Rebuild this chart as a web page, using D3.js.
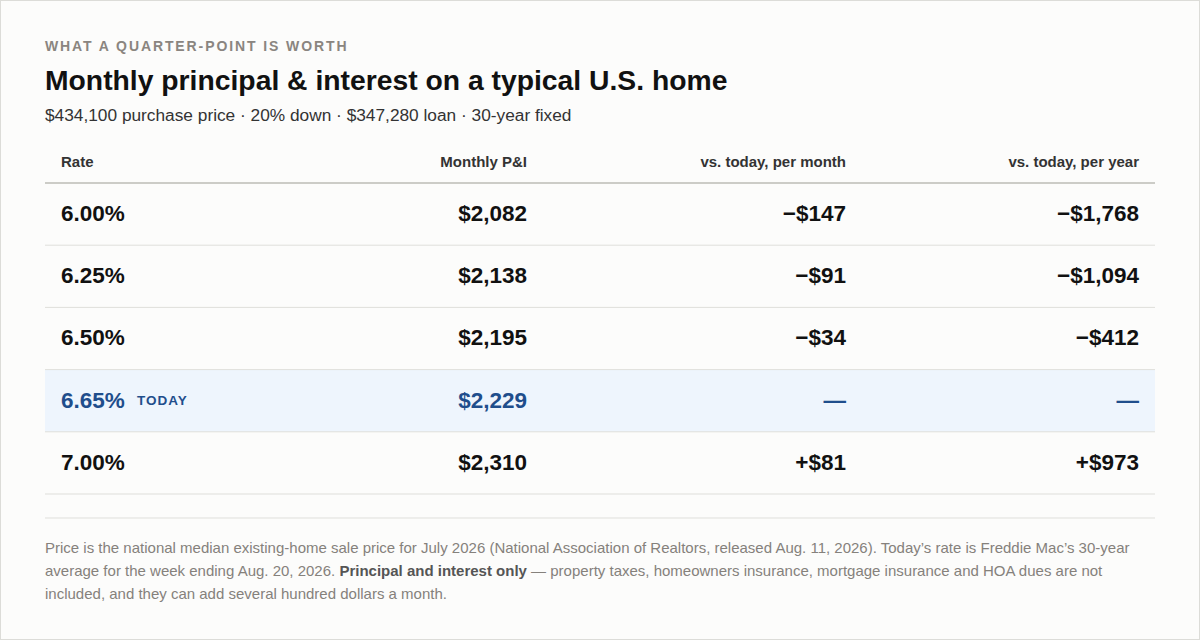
<!DOCTYPE html>
<html><head><meta charset="utf-8">
<script src="https://cdn.jsdelivr.net/npm/d3@7"></script>
<style>
body{margin:0;background:#fff;font-family:"Liberation Sans",Arial,sans-serif;}
</style></head>
<body><svg id="c" width="1200" height="640"></svg>
<script>
var rates = ['6.00%', '6.25%', '6.50%', '6.65%', '7.00%'];
var monthly = ['$2,082', '$2,138', '$2,195', '$2,229', '$2,310'];
var perMonth = ['\u2212$147', '\u2212$91', '\u2212$34', '\u2014', '+$81'];
var perYear = ['\u2212$1,768', '\u2212$1,094', '\u2212$412', '\u2014', '+$973'];
var todayIndex = 3;
var headers = ['Rate', 'Monthly P&I', 'vs. today, per month', 'vs. today, per year'];

var svg = d3.select('#c');
svg.append('rect').attr('x', 0.5).attr('y', 0.5).attr('width', 1199).attr('height', 639)
	.attr('fill', '#fcfcfb').attr('stroke', '#dcdcd8');

svg.append('text').attr('x', 45).attr('y', 51).text('WHAT A QUARTER-POINT IS WORTH')
	.attr('font-size', 14).attr('font-weight', 700).attr('letter-spacing', 1.9).attr('fill', '#8a8580');
svg.append('text').attr('x', 45).attr('y', 90).text('Monthly principal & interest on a typical U.S. home')
	.attr('font-size', 28.3).attr('font-weight', 700).attr('fill', '#111');
svg.append('text').attr('x', 45).attr('y', 121)
	.text('$434,100 purchase price \u00b7 20% down \u00b7 $347,280 loan \u00b7 30-year fixed')
	.attr('font-size', 17.3).attr('fill', '#333');

// columns: x scale by index, rows: band scale
var colX = [61, 527, 846, 1139];
var y = d3.scaleBand().domain(d3.range(rates.length)).range([183, 494]);

svg.selectAll('.hd').data(headers).enter().append('text')
	.attr('x', function(d, i) { return colX[i]; }).attr('y', 167)
	.attr('text-anchor', function(d, i) { return i ? 'end' : 'start'; })
	.attr('font-size', 15).attr('font-weight', 700).attr('fill', '#333').text(function(d) { return d; });

svg.append('rect').attr('x', 45).attr('y', y(todayIndex)).attr('width', 1110).attr('height', y.bandwidth())
	.attr('fill', '#eef5fd');

svg.append('line').attr('x1', 45).attr('x2', 1155).attr('y1', 183).attr('y2', 183)
	.attr('stroke', '#bdbdb6').attr('stroke-width', 1.5);

var rows = svg.selectAll('.row').data(rates).enter().append('g')
	.attr('transform', function(d, i) { return 'translate(0,' + y(i) + ')'; });

rows.append('line').attr('x1', 45).attr('x2', 1155)
	.attr('y1', y.bandwidth()).attr('y2', y.bandwidth()).attr('stroke', '#dfdfdb');

rows.each(function(d, i) {
	var g = d3.select(this);
	var col = i === todayIndex ? '#1f4e8c' : '#111';
	var vals = [rates[i], monthly[i], perMonth[i], perYear[i]];
	vals.forEach(function(v, j) {
		g.append('text').attr('x', colX[j]).attr('y', y.bandwidth() / 2 + 7)
			.attr('text-anchor', j ? 'end' : 'start')
			.attr('font-size', 22.5).attr('font-weight', 700).attr('fill', col).text(v);
	});
	if (i === todayIndex) {
		g.append('text').attr('x', 137).attr('y', y.bandwidth() / 2 + 4)
			.attr('font-size', 13.5).attr('font-weight', 700).attr('letter-spacing', 1)
			.attr('fill', col).text('TODAY');
	}
});

svg.append('line').attr('x1', 45).attr('x2', 1155).attr('y1', 518).attr('y2', 518)
	.attr('stroke', '#dfdfdb');

var note = svg.append('g').attr('font-size', 15).attr('fill', '#85817c');
note.append('text').attr('x', 45).attr('y', 553)
	.text('Price is the national median existing-home sale price for July 2026 (National Association of Realtors, released Aug. 11, 2026). Today\u2019s rate is Freddie Mac\u2019s 30-year');
var l2 = note.append('text').attr('x', 45).attr('y', 576);
l2.append('tspan').text('average for the week ending Aug. 20, 2026. ');
l2.append('tspan').attr('font-weight', 700).attr('fill', '#555').text('Principal and interest only');
l2.append('tspan').text(' \u2014 property taxes, homeowners insurance, mortgage insurance and HOA dues are not');
note.append('text').attr('x', 45).attr('y', 599).text('included, and they can add several hundred dollars a month.');
</script></body></html>
